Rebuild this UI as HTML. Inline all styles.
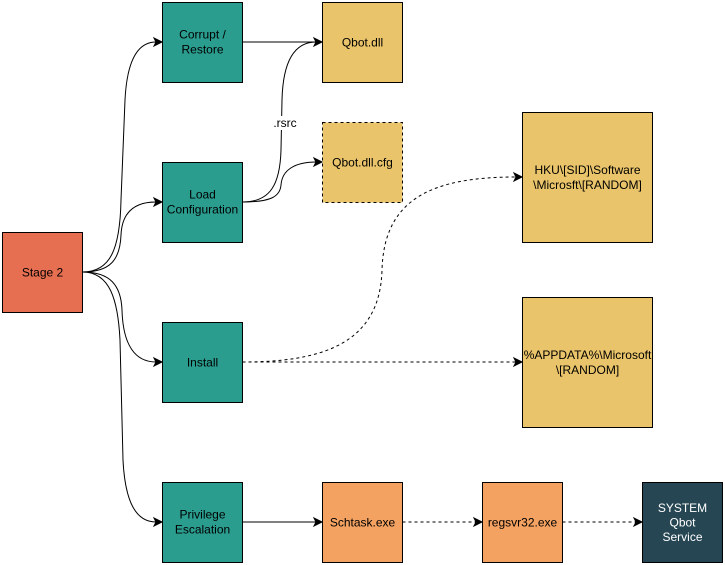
<!DOCTYPE html>
<html><head><meta charset="utf-8"><style>
html,body{margin:0;padding:0;background:#fff;}
svg{display:block;}
text{font-family:"Liberation Sans",Arial,sans-serif;font-size:12px;fill:#000;}
</style></head><body>
<svg width="725" height="565" viewBox="0 0 725 565" xmlns="http://www.w3.org/2000/svg">
<g fill="none" stroke="#000" stroke-width="1">
  <!-- Stage 2 edges -->
  <path d="M82.5,272 C110,272 120,250 121,200 L125,100 C127,60 138,42 156,42"/>
  <path d="M82.5,272 C110,272 120,260 121,235 C122,212 135,202 156,202"/>
  <path d="M82.5,272 C110,272 121,285 122,310 C123,345 135,362 156,362"/>
  <path d="M82.5,272 C110,272 118,300 120,340 L123,460 C125,500 135,522 156,522"/>
  <!-- Corrupt -> Qbot.dll -->
  <path d="M242.5,42 L316,42"/>
  <!-- Load -> Qbot.dll -->
  <path d="M242.5,202 C270,202 280,185 281,150 L282,100 C283,60 295,42 316,42"/>
  <!-- Load -> cfg -->
  <path d="M242.5,202 C270,202 280,197 281,185 C282,170 295,162 316,162"/>
  <!-- Privilege -> Schtask -->
  <path d="M242.5,522 L316,522"/>
</g>
<g fill="none" stroke="#000" stroke-width="1" stroke-dasharray="3 3">
  <path d="M242.5,362 C320,362 380,345 382,270 C384,200 430,177 516,177"/>
  <path d="M242.5,362 L516,362"/>
  <path d="M402.5,522 L476,522"/>
  <path d="M562.5,522 L636,522"/>
</g>
<!-- arrowheads -->
<g fill="#000" stroke="#000" stroke-width="1">
  <polygon points="162,42 154,38 156,42 154,46"/>
  <polygon points="162,202 154,198 156,202 154,206"/>
  <polygon points="162,362 154,358 156,362 154,366"/>
  <polygon points="162,522 154,518 156,522 154,526"/>
  <polygon points="322,42 314,38 316,42 314,46"/>
  <polygon points="322,162 314,158 316,162 314,166"/>
  <polygon points="522,177 514,173 516,177 514,181"/>
  <polygon points="522,362 514,358 516,362 514,366"/>
  <polygon points="322,522 314,518 316,522 314,526"/>
  <polygon points="482,522 474,518 476,522 474,526"/>
  <polygon points="642,522 634,518 636,522 634,526"/>
</g>
<!-- .rsrc label -->
<rect x="271" y="116" width="28" height="14" fill="#fff"/>
<text x="285" y="127" text-anchor="middle">.rsrc</text>
<!-- boxes -->
<g stroke="#000" stroke-width="1">
  <rect x="2.5" y="232.5" width="80" height="80" fill="#e76f51"/>
  <rect x="162.5" y="2.5" width="80" height="80" fill="#2a9d8f"/>
  <rect x="162.5" y="162.5" width="80" height="80" fill="#2a9d8f"/>
  <rect x="162.5" y="322.5" width="80" height="80" fill="#2a9d8f"/>
  <rect x="162.5" y="482.5" width="80" height="80" fill="#2a9d8f"/>
  <rect x="322.5" y="2.5" width="80" height="80" fill="#e9c46a"/>
  <rect x="322.5" y="122.5" width="80" height="80" fill="#e9c46a" stroke-dasharray="3 3"/>
  <rect x="522.5" y="112.5" width="130" height="130" fill="#e9c46a"/>
  <rect x="522.5" y="297.5" width="130" height="130" fill="#e9c46a"/>
  <rect x="322.5" y="482.5" width="80" height="80" fill="#f4a261"/>
  <rect x="482.5" y="482.5" width="80" height="80" fill="#f4a261"/>
  <rect x="642.5" y="482.5" width="80" height="80" fill="#264653"/>
</g>
<!-- labels -->
<g text-anchor="middle">
  <text x="42.5" y="276.5">Stage 2</text>
  <text x="202.5" y="38.5">Corrupt /</text>
  <text x="202.5" y="53.5">Restore</text>
  <text x="202.5" y="198.5">Load</text>
  <text x="202.5" y="213.5">Configuration</text>
  <text x="202.5" y="366.5">Install</text>
  <text x="202.5" y="518.5">Privilege</text>
  <text x="202.5" y="533.5">Escalation</text>
  <text x="362.5" y="46.5">Qbot.dll</text>
  <text x="362.5" y="166.5">Qbot.dll.cfg</text>
  <text x="587.5" y="174">HKU\[SID]\Software</text>
  <text x="587.5" y="189">\Microsft\[RANDOM]</text>
  <text x="587.5" y="359">%APPDATA%\Microsoft</text>
  <text x="587.5" y="374">\[RANDOM]</text>
  <text x="362.5" y="526.5">Schtask.exe</text>
  <text x="522.5" y="526.5">regsvr32.exe</text>
  <text x="682.5" y="512" style="fill:#fff">SYSTEM</text>
  <text x="682.5" y="526.5" style="fill:#fff">Qbot</text>
  <text x="682.5" y="541" style="fill:#fff">Service</text>
</g>
</svg>
</body></html>
